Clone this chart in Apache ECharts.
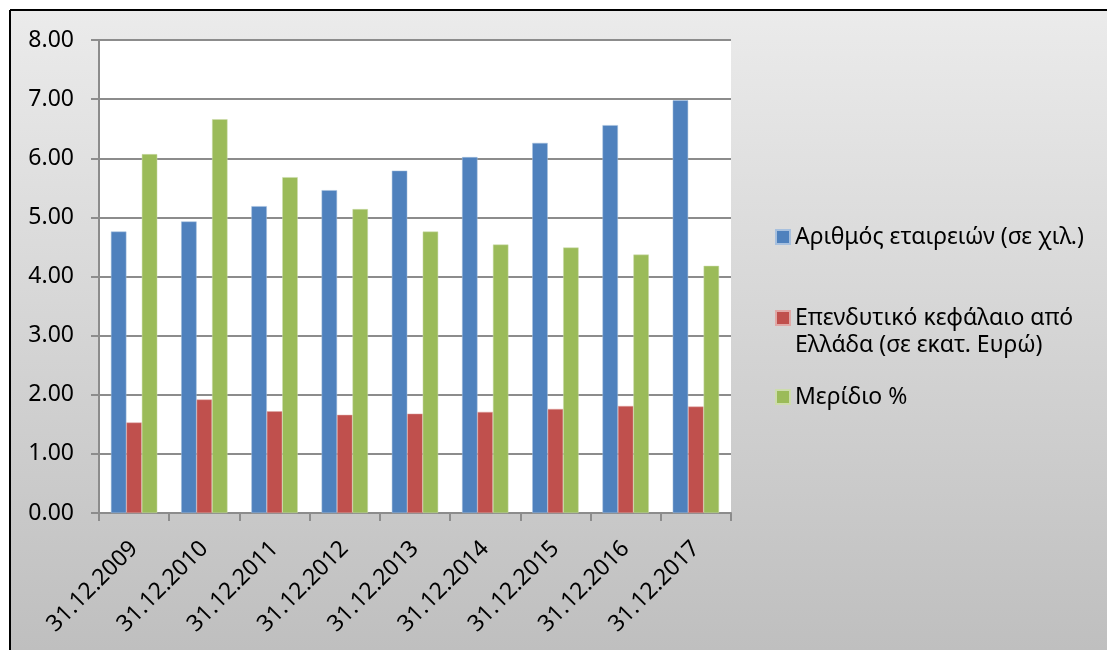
<!DOCTYPE html>
<html>
<head>
<meta charset="utf-8">
<script src="https://cdn.jsdelivr.net/npm/echarts@6/dist/echarts.min.js"></script>
<style>
html,body{margin:0;padding:0;background:#fff;}
#c{width:1107px;height:650px;}
</style>
</head>
<body>
<div id="c"></div>
<script>
const categories = ['31.12.2009','31.12.2010','31.12.2011','31.12.2012','31.12.2013','31.12.2014','31.12.2015','31.12.2016','31.12.2017'];
const seriesNames = ['Αριθμός εταιρειών (σε χιλ.)', 'Επενδυτικό κεφάλαιο από Ελλάδα (σε εκατ. Ευρώ)', 'Μερίδιο %'];
const companies = [4.76, 4.93, 5.19, 5.46, 5.79, 6.02, 6.26, 6.56, 6.98];
const capital = [1.53, 1.92, 1.72, 1.66, 1.68, 1.71, 1.76, 1.81, 1.80];
const share = [6.07, 6.66, 5.68, 5.14, 4.76, 4.54, 4.49, 4.37, 4.18];
const yTicks = { min: 0, max: 8, interval: 1 };

const FONT = 'Noto Sans';
const chart = echarts.init(document.getElementById('c'));
const colors = ['#4f81bd', '#c0504d', '#9bbb59'];

function legend(name, top) {
  return {
    data: [name], left: 775, top: top, padding: 0, icon: 'rect', itemWidth: 14, itemHeight: 14,
    formatter: n => n === seriesNames[1] ? ' \nΕπενδυτικό κεφάλαιο από\nΕλλάδα (σε εκατ. Ευρώ)' : n,
    textStyle: { fontFamily: FONT, fontSize: 23, color: '#000', lineHeight: 27 },
    selectedMode: false
  };
}

chart.setOption({
  animation: false,
  color: colors,
  graphic: [
    { type: 'rect', z: -10, shape: { x: 10, y: 10, width: 1097, height: 640 },
      style: { fill: new echarts.graphic.LinearGradient(0, 0, 0, 1, [{offset: 0, color: '#ebebeb'}, {offset: 1, color: '#bfbfbf'}]) } },
    { type: 'line', z: 10, shape: { x1: 10, y1: 10, x2: 1107, y2: 10 }, style: { stroke: '#000', lineWidth: 2 } },
    { type: 'line', z: 10, shape: { x1: 10, y1: 10, x2: 10, y2: 650 }, style: { stroke: '#000', lineWidth: 2 } }
  ],
  grid: { left: 99, right: 376, top: 40, bottom: 137, show: true, backgroundColor: '#fff', borderWidth: 0 },
  legend: [
    legend(seriesNames[0], 223.5),
    legend(seriesNames[1], 277.5),
    legend(seriesNames[2], 383.5)
  ],
  xAxis: {
    type: 'category', data: categories,
    axisLine: { lineStyle: { color: '#8c8c8c', width: 2 } },
    axisTick: { show: true, length: 8, alignWithLabel: false, lineStyle: { color: '#8c8c8c', width: 2 } },
    axisLabel: { rotate: 45, interval: 0, fontFamily: FONT, fontSize: 23, color: '#000', margin: 32 }
  },
  yAxis: {
    type: 'value', min: yTicks.min, max: yTicks.max, interval: yTicks.interval,
    axisLine: { show: true, lineStyle: { color: '#8c8c8c', width: 2 } },
    axisTick: { show: true, length: 8, lineStyle: { color: '#8c8c8c', width: 2 } },
    splitLine: { lineStyle: { color: '#8c8c8c', width: 2 } },
    axisLabel: { formatter: v => v.toFixed(2), fontFamily: FONT, fontSize: 23, color: '#000', margin: 25 }
  },
  series: [
    { name: seriesNames[0], type: 'bar', data: companies, barGap: '0%', barCategoryGap: '34%', itemStyle: { borderColor: '#a7c0de', borderWidth: 0.5 } },
    { name: seriesNames[1], type: 'bar', data: capital, itemStyle: { borderColor: '#e0a8a6', borderWidth: 0.5 } },
    { name: seriesNames[2], type: 'bar', data: share, itemStyle: { borderColor: '#cddcac', borderWidth: 0.5 } }
  ]
});
</script>
</body>
</html>
